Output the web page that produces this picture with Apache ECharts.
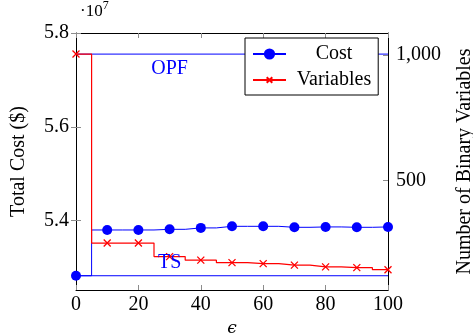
<!DOCTYPE html>
<html>
<head>
<meta charset="utf-8">
<script src="https://cdn.jsdelivr.net/npm/echarts@6/dist/echarts.min.js"></script>
<style>
  html, body { margin: 0; padding: 0; background: #fff; }
  #chart { width: 473px; height: 334px; }
</style>
</head>
<body>
<div id="chart"></div>
<script>
// epsilon sweep, cost in units of 10^7 $
const epsilon = [0, 10, 20, 30, 40, 50, 60, 70, 80, 90, 100];
const costValues = [5.2824, 5.38, 5.38, 5.3814, 5.3844, 5.3878, 5.3878, 5.3857, 5.3865, 5.3857, 5.3865];
const variableCounts = [1004, 251, 251, 197, 183, 173, 169, 163, 156, 153, 145];
const opfCost = 5.755;
const tsCost = 5.2824;
const costTicks = [5.4, 5.6, 5.8];
const variableTicks = [500, 1000];

const serif = "Liberation Serif";
const blue = "#0000ff";
const red = "#ff0000";
const tickColor = "#8c8c8c";
// cross drawn in the middle half of a padded box, so legend and marks stay small
const crossPath = "path://M-5,-5M15,15M0,0L10,10M10,0L0,10";

const chart = echarts.init(document.getElementById("chart"));

const tickLabel = { color: "#000", fontSize: 20, fontFamily: serif };

chart.setOption({
  animation: false,
  grid: { left: 76, right: 85, top: 33, bottom: 44, outerBoundsMode: "none", containLabel: false },
  graphic: [
    {
      type: "text",
      left: 80,
      top: 0,
      style: {
        text: "{a|·10}{b|7}",
        fill: "#000",
        rich: {
          a: { fontSize: 17, fontFamily: serif, verticalAlign: "bottom" },
          b: { fontSize: 12, fontFamily: serif, padding: [0, 0, 8, 0] },
        },
      },
    },
  ],
  legend: {
    data: ["Cost", "Variables"],
    orient: "vertical",
    left: 245,
    top: 38,
    width: 137,
    padding: [6, 7, 5, 7],
    itemGap: 6,
    itemWidth: 33,
    itemHeight: 14,
    backgroundColor: "#fff",
    borderColor: "#000",
    borderWidth: 1,
    formatter: (name) => "{t|" + name + "}",
    textStyle: {
      color: "#000",
      fontSize: 20,
      fontFamily: serif,
      rich: { t: { width: 86, align: "center", fontSize: 20, fontFamily: serif } },
    },
  },
  xAxis: [
    {
      type: "value",
      min: 0,
      max: 100,
      interval: 20,
      position: "bottom",
      name: "\u03f5",
      nameLocation: "middle",
      nameGap: 26,
      nameTextStyle: { color: "#000", fontSize: 17, fontFamily: "DejaVu Serif", fontStyle: "italic" },
      axisLine: { onZero: false, lineStyle: { color: "#000", width: 1 } },
      axisTick: { inside: true, length: 5, lineStyle: { color: tickColor } },
      axisLabel: { ...tickLabel, margin: 5 },
      splitLine: { show: false },
    },
    {
      type: "value",
      min: 0,
      max: 100,
      interval: 20,
      position: "top",
      axisLine: { onZero: false, lineStyle: { color: "#000", width: 1 } },
      axisTick: { inside: true, length: 5, lineStyle: { color: tickColor } },
      axisLabel: { show: false },
      splitLine: { show: false },
    },
  ],
  yAxis: [
    {
      type: "value",
      position: "left",
      min: 5.252,
      max: 5.8,
      name: "Total Cost ($)",
      nameLocation: "middle",
      nameRotate: 90,
      nameGap: 47,
      nameTextStyle: { color: "#000", fontSize: 20, fontFamily: serif },
      axisLine: { show: true, onZero: false, lineStyle: { color: "#000", width: 1 } },
      axisTick: { show: true, inside: true, length: 5, customValues: costTicks, lineStyle: { color: tickColor } },
      axisLabel: { ...tickLabel, margin: 7, customValues: costTicks, formatter: (v) => v.toFixed(1) },
      splitLine: { show: false },
    },
    {
      type: "value",
      position: "right",
      min: 64,
      max: 1088,
      name: "Number of Binary Variables",
      nameLocation: "middle",
      nameRotate: 90,
      nameGap: 67,
      nameTextStyle: { color: "#000", fontSize: 20, fontFamily: serif },
      axisLine: { show: true, onZero: false, lineStyle: { color: "#000", width: 1 } },
      axisTick: { show: true, inside: true, length: 5, customValues: variableTicks, lineStyle: { color: tickColor } },
      axisLabel: {
        ...tickLabel,
        margin: 8,
        customValues: variableTicks,
        formatter: (v) => v.toLocaleString("en-US"),
      },
      splitLine: { show: false },
    },
    {
      // mirrored cost ticks on the right side
      type: "value",
      position: "right",
      min: 5.252,
      max: 5.8,
      axisLine: { show: false },
      axisTick: { show: true, inside: true, length: 5, customValues: costTicks, lineStyle: { color: tickColor } },
      axisLabel: { show: false },
      splitLine: { show: false },
    },
  ],
  series: [
    {
      name: "OPF",
      type: "line",
      yAxisIndex: 0,
      data: [[0, opfCost], [100, opfCost]],
      symbol: "none",
      lineStyle: { color: blue, width: 1 },
      z: 2,
      markPoint: {
        symbol: "circle",
        symbolSize: 0,
        label: { show: true, formatter: "OPF", color: blue, fontSize: 20, fontFamily: serif },
        data: [{ coord: [30, 5.724] }],
      },
    },
    {
      name: "TS",
      type: "line",
      yAxisIndex: 0,
      data: [[0, tsCost], [100, tsCost]],
      symbol: "none",
      lineStyle: { color: blue, width: 1 },
      z: 2,
      markPoint: {
        symbol: "circle",
        symbolSize: 0,
        label: { show: true, formatter: "TS", color: blue, fontSize: 20, fontFamily: serif },
        data: [{ coord: [30, 5.311] }],
      },
    },
    {
      name: "Cost",
      type: "line",
      yAxisIndex: 0,
      step: "middle",
      data: epsilon.map((e, i) => [e, costValues[i]]),
      symbol: "circle",
      symbolSize: 10,
      showAllSymbol: true,
      itemStyle: { color: blue },
      lineStyle: { color: blue, width: 1 },
      z: 3,
    },
    {
      name: "Variables",
      type: "line",
      yAxisIndex: 1,
      step: "middle",
      data: epsilon.map((e, i) => [e, variableCounts[i]]),
      symbol: crossPath,
      symbolSize: 14,
      showAllSymbol: true,
      itemStyle: { color: red, borderColor: red, borderWidth: 1.3 },
      lineStyle: { color: red, width: 1.2 },
      z: 4,
    },
  ],
});
</script>
</body>
</html>
